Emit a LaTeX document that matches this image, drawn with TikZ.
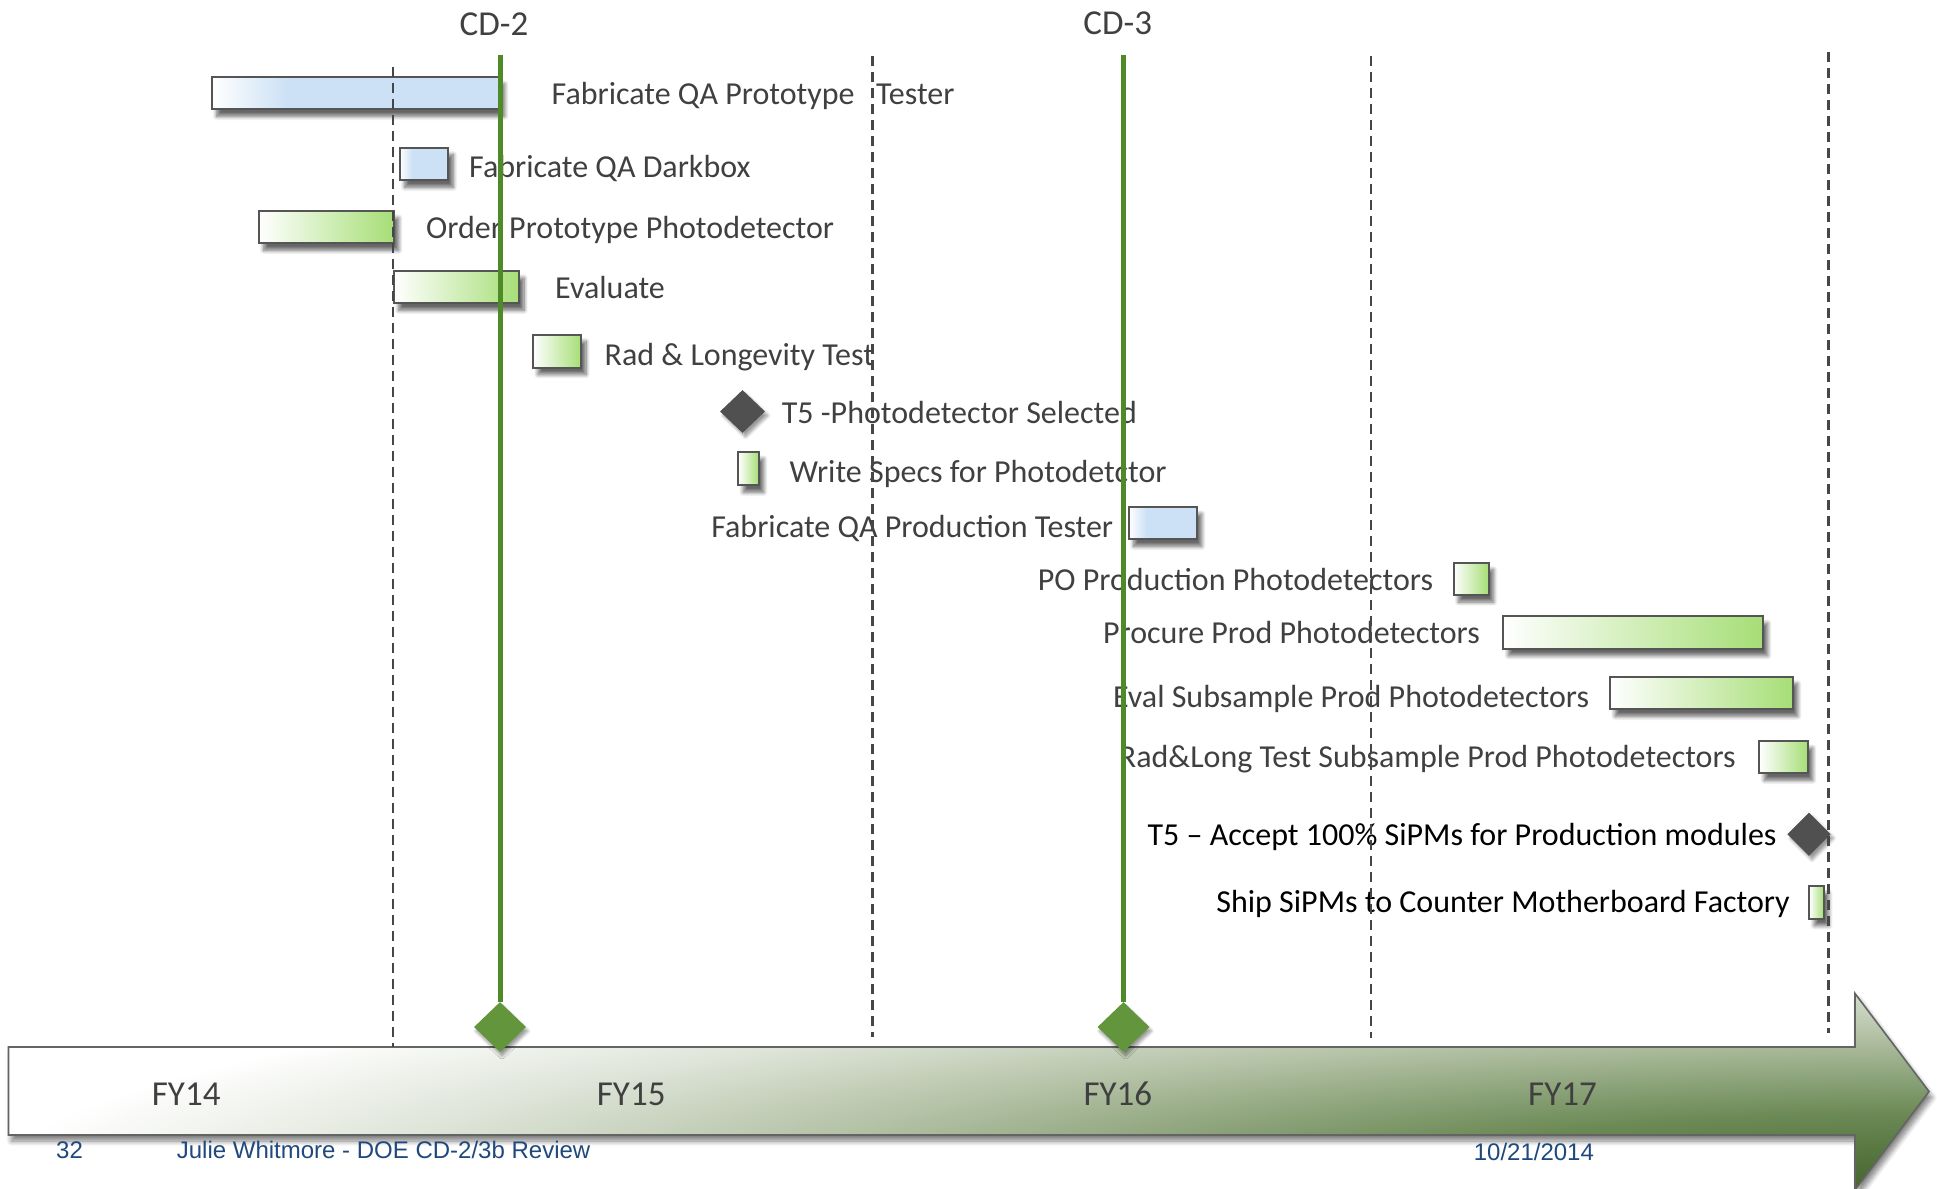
\documentclass[tikz,border=0pt]{standalone}
\usepackage{fontspec}
\setmainfont{Carlito}
\newfontfamily\footfont{Liberation Sans}
\usetikzlibrary{shapes.geometric,shadows.blur}

\definecolor{txtgrey}{RGB}{64,64,64}
\definecolor{barline}{RGB}{85,85,85}
\definecolor{barblue}{RGB}{204,225,245}
\definecolor{bargreen}{RGB}{166,222,118}
\definecolor{cdgreen}{RGB}{78,138,38}
\definecolor{cddia}{RGB}{99,150,60}
\definecolor{msgrey}{RGB}{80,80,80}
\definecolor{dashgrey}{RGB}{70,70,70}
\definecolor{footblue}{RGB}{31,73,125}
\definecolor{agA}{RGB}{68,98,42}
\definecolor{agB}{RGB}{108,138,86}
\definecolor{agC}{RGB}{180,194,166}
\definecolor{agD}{RGB}{222,228,216}
\definecolor{arrline}{RGB}{100,100,100}

\pgfdeclarehorizontalshading{bluebarshade}{100bp}{color(0bp)=(white); color(25bp)=(white); color(38bp)=(barblue); color(100bp)=(barblue)}
\pgfdeclareradialshading{arrowshade}{\pgfpoint{0bp}{0bp}}{color(0bp)=(agA); color(7.5bp)=(agB); color(15bp)=(agC); color(20bp)=(agD); color(25bp)=(white); color(50bp)=(white)}

\tikzset{
  bar/.style={draw=barline, line width=2pt, inner sep=0pt, anchor=north west,
    blur shadow={shadow xshift=5pt, shadow yshift=-7pt, shadow blur radius=4pt, shadow opacity=60, shadow blur steps=8}},
  bluebar/.style={bar, shade, shading=bluebarshade},
  greenbar/.style={bar, left color=white, right color=bargreen},
  msdia/.style={diamond, fill=msgrey, inner sep=0pt,
    blur shadow={shadow xshift=3pt, shadow yshift=-4pt, shadow blur radius=3pt, shadow opacity=40, shadow blur steps=6}},
  cddiamond/.style={diamond, fill=cddia, inner sep=0pt, minimum width=52pt, minimum height=50pt,
    blur shadow={shadow xshift=2pt, shadow yshift=-4pt, shadow blur radius=3pt, shadow opacity=40, shadow blur steps=6}},
  lbl/.style={inner sep=0pt, font=\fontsize{32}{38}\selectfont, text=txtgrey},
  blk/.style={inner sep=0pt, font=\fontsize{32}{38}\selectfont, text=black},
  big/.style={inner sep=0pt, font=\fontsize{35}{40}\selectfont, text=txtgrey},
  foot/.style={inner sep=0pt, font=\footfont\fontsize{24}{27}\selectfont, text=footblue},
  cdline/.style={draw=cdgreen, line width=5pt},
  dashline/.style={draw=dashgrey, line width=2.4pt, dash pattern=on 10pt off 6pt},
}

\begin{document}
\begin{tikzpicture}[x=1pt,y=-1pt]
\useasboundingbox (0,0) rectangle (1937,1188);

% ---------- timeline arrow ----------
\def\arrowpath{(8.5,1047) -- (1855,1047) -- (1855,993.5) -- (1929,1091.5) -- (1855,1190) -- (1855,1135) -- (8.5,1135) -- cycle}
\path[fill=white, blur shadow={shadow xshift=3pt, shadow yshift=-6pt, shadow blur radius=5pt, shadow opacity=50, shadow blur steps=8}] \arrowpath;
\begin{scope}
  \clip \arrowpath;
  \shade[shading=arrowshade] (1930,1190) ellipse [x radius=1950pt, y radius=260pt];
\end{scope}
\draw[draw=arrline, line width=1.6pt, line join=miter] \arrowpath;

\node[big, anchor=base west] (fy14) at (151.7,1105) {FY14};
\node[big, anchor=base west] (fy15) at (596.7,1105) {FY15};
\node[big, anchor=base west] (fy16) at (1083.4,1105) {FY16};
\node[big, anchor=base west] (fy17) at (1528,1105) {FY17};

% ---------- bars ----------
\node[bluebar, minimum width=288pt, minimum height=32.3pt] (b1) at (210.7,76) {};
\node[bluebar, minimum width=48.6pt, minimum height=32.6pt] (b2) at (398.7,146.7) {};
\node[greenbar, minimum width=135pt, minimum height=32.3pt] (b3) at (257.7,210) {};
\node[greenbar, minimum width=125.3pt, minimum height=32.3pt] (b4) at (392.7,270) {};
\node[greenbar, minimum width=48pt, minimum height=33pt] (b5) at (532,333.5) {};
\node[msdia, minimum width=45pt, minimum height=43pt] (m1) at (742.5,411.5) {};
\node[greenbar, minimum width=20.4pt, minimum height=33.3pt] (b7) at (737.3,451) {};
\node[bluebar, minimum width=68pt, minimum height=32.3pt] (b8) at (1127.7,506) {};
\node[greenbar, minimum width=35pt, minimum height=32.3pt] (b9) at (1452.5,561.7) {};
\node[greenbar, minimum width=259.4pt, minimum height=32.4pt] (b10) at (1502.3,615.3) {};
\node[greenbar, minimum width=182.7pt, minimum height=32.6pt] (b11) at (1609,675.7) {};
\node[greenbar, minimum width=48.4pt, minimum height=32.3pt] (b12) at (1758.3,740) {};
\node[msdia, minimum width=43.4pt, minimum height=43.4pt] (m2) at (1809,834.3) {};
\node[greenbar, minimum width=14.4pt, minimum height=32.7pt] (b14) at (1808.3,885) {};

% ---------- labels ----------
\node[lbl, anchor=base west] (l1) at (551.5,105) {Fabricate QA Prototype\hspace{0.45em} Tester};
\node[lbl, anchor=base west] (l2) at (469,177.5) {Fabricate QA Darkbox};
\node[lbl, anchor=base west] (l3) at (426,238) {Order Prototype Photodetector};
\node[lbl, anchor=base west] (l4) at (555,298) {Evaluate};
\node[lbl, anchor=base west] (l5) at (604.5,365) {Rad \& Longevity Test};
\node[lbl, anchor=base west] (l6) at (781.7,423) {T5 -Photodetector Selected};
\node[lbl, anchor=base west] (l7) at (789.3,482.5) {Write Specs for Photodetctor};
\node[lbl, anchor=base east] (l8) at (1113.3,537) {Fabricate QA Production Tester};
\node[lbl, anchor=base east] (l9) at (1433.3,590) {PO Production Photodetectors};
\node[lbl, anchor=base east] (l10) at (1480,643) {Procure Prod Photodetectors};
\node[lbl, anchor=base east] (l11) at (1589.3,707) {Eval Subsample Prod Photodetectors};
\node[lbl, anchor=base east] (l12) at (1736,767) {Rad\&Long Test Subsample Prod Photodetectors};
\node[blk, anchor=base east] (l13) at (1776.7,845.5) {T5 – Accept 100\% SiPMs for Production modules};
\node[blk, anchor=base east] (l14) at (1790,912.5) {Ship SiPMs to Counter Motherboard Factory};

% ---------- dashed year lines ----------
\coordinate (d1t) at (392.7,66.7);  \coordinate (d1b) at (392.7,1047);
\coordinate (d2t) at (872.5,56);    \coordinate (d2b) at (872.5,1037);
\coordinate (d3t) at (1371.2,56);   \coordinate (d3b) at (1371.2,1038);
\coordinate (d4t) at (1828.3,52);   \coordinate (d4b) at (1828.3,1033);
\draw[dashline] (d1t) -- (d1b);
\draw[dashline] (d2t) -- (d2b);
\draw[dashline] (d3t) -- (d3b);
\draw[dashline] (d4t) -- (d4b);

% ---------- CD milestones ----------
\node[big, anchor=base] (cd2) at (494,36) {CD-2};
\node[big, anchor=base] (cd3) at (1117.7,34.5) {CD-3};
\coordinate (cd2top) at (500,55.5);
\coordinate (cd3top) at (1123.5,55.5);
\node[cddiamond] (cd2dia) at (500,1027) {};
\node[cddiamond] (cd3dia) at (1123.5,1027) {};
\draw[cdline] (cd2top) -- (cd2dia.north);
\draw[cdline] (cd3top) -- (cd3dia.north);

% ---------- footer ----------
\node[foot, anchor=base west] (pg) at (56,1158) {32};
\node[foot, anchor=base west] (auth) at (176.7,1158) {Julie Whitmore - DOE CD-2/3b Review};
\node[foot, anchor=base west] (date) at (1473.6,1160) {10/21/2014};
\end{tikzpicture}
\end{document}
